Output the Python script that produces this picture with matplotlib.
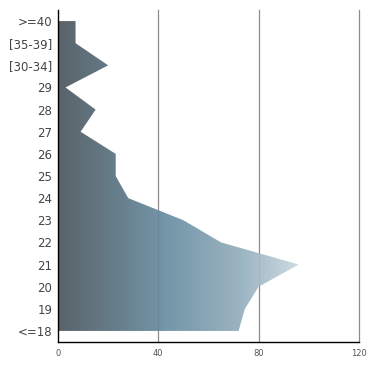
import numpy as np
import matplotlib
matplotlib.use("Agg")
import matplotlib.pyplot as plt
from matplotlib.colors import LinearSegmentedColormap

categories = ["<=18", "19", "20", "21", "22", "23", "24", "25", "26", "27", "28", "29",
              "[30-34]", "[35-39]", ">=40"]
values = [72, 74.5, 80, 96, 65, 50, 28, 23, 23, 9, 15, 3, 20, 7, 7]
xticks = [0, 40, 80, 120]

fig = plt.figure(figsize=(3.8, 3.73), dpi=100)
ax = fig.add_axes([58/380, 1-342/373, (359-58)/380, (342-10)/373])

y = np.arange(len(categories))
poly = ax.fill_betweenx(y, 0, values, facecolor="none", edgecolor="none")

cmap = LinearSegmentedColormap.from_list(
    "g", [(0.0, "#4e5860"), (0.45, "#6a8fa3"), (0.75, "#93aebc"), (1.0, "#cbd8e0")])
grad = np.linspace(0, 1, 256).reshape(1, -1)
vmax = max(values)
im = ax.imshow(grad, cmap=cmap, aspect="auto",
               extent=[0, vmax, y[0], y[-1]], origin="lower", zorder=2, alpha=0.94)
im.set_clip_path(poly.get_paths()[0], transform=ax.transData)

ax.set_xlim(0, 120)
ax.set_ylim(-0.5, len(categories) - 0.5)
ax.set_xticks(xticks)
ax.set_xticklabels([str(t) for t in xticks])
ax.set_yticks(y)
ax.set_yticklabels(categories)

for t in xticks[1:]:
    ax.axvline(t, color="#8c8c8c", linewidth=0.9, zorder=1, clip_on=False)
ax.tick_params(axis="both", length=0)
ax.tick_params(axis="y", labelsize=8.5, labelcolor="#444444", pad=4)
ax.tick_params(axis="x", labelsize=6, labelcolor="#555555", pad=5)
for s in ["top", "right"]:
    ax.spines[s].set_visible(False)
for s in ["left", "bottom"]:
    ax.spines[s].set_color("black")
    ax.spines[s].set_linewidth(1.0)
    ax.spines[s].set_zorder(3)

fig.savefig("out.png", dpi=100)
